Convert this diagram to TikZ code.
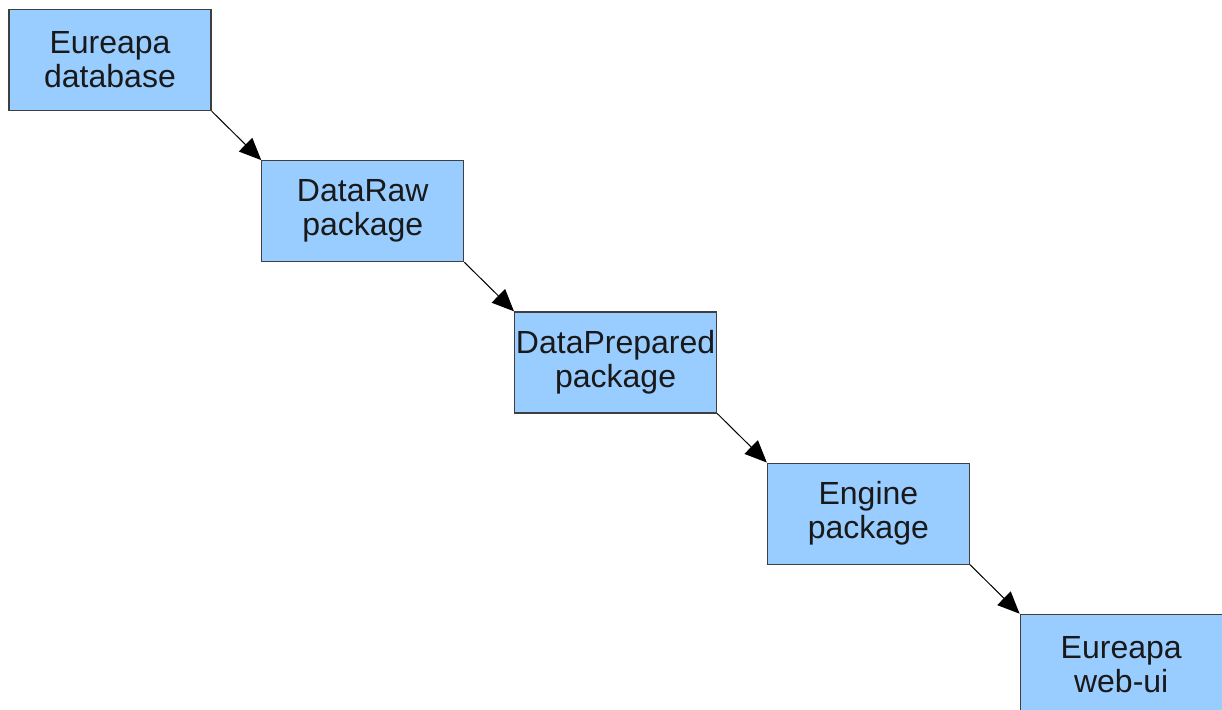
\documentclass[tikz,border=0pt]{standalone}
\usepackage{fontspec}
\setmainfont{Liberation Sans}
\usepackage{tikz}
\usetikzlibrary{positioning, arrows.meta}
\definecolor{boxblue}{HTML}{99CCFF}
\definecolor{boxline}{HTML}{3F3F3F}

\begin{document}
\begin{tikzpicture}[x=0.5pt, y=-0.5pt,
    package/.style=
    {draw=boxline, fill=boxblue, line width=0.6pt, rectangle, align=center,
     minimum width=101pt, minimum height=50.5pt, inner sep=0pt,
     font=\fontsize{16}{17}\selectfont, text=black!90},
    flow/.style=
    {-{Triangle[length=11pt, width=9.5pt]}, line width=0.5pt, black},
    node distance = 24.5pt and 24.8pt]
    \useasboundingbox (0,0) rectangle (1222,709);
    \node (db) [package] at (110,60) {Eureapa\\database};
    \node (raw) [package, below right= of db.south east, anchor=north west] {DataRaw\\package};
    \node (prep) [package, below right= of raw.south east, anchor=north west] {DataPrepared\\package};
    \node (engine) [package, below right= of prep.south east, anchor=north west] {Engine\\package};
    \node (webui) [package, below right= of engine.south east, anchor=north west] {Eureapa\\web-ui};
    \draw[flow] (db.south east) -- (raw.north west);
    \draw[flow] (raw.south east) -- (prep.north west);
    \draw[flow] (prep.south east) -- (engine.north west);
    \draw[flow] (engine.south east) -- (webui.north west);
\end{tikzpicture}
\end{document}
